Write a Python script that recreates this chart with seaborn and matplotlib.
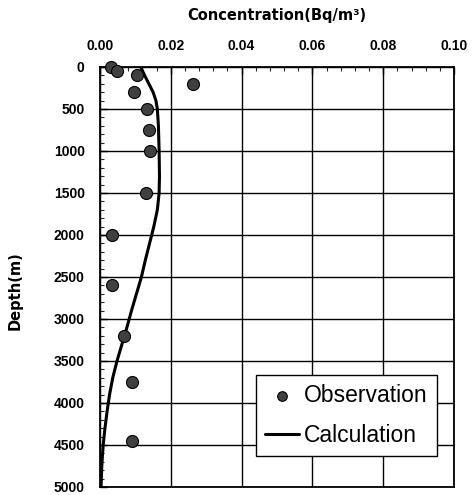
import matplotlib
matplotlib.use("Agg")
import matplotlib.pyplot as plt
import seaborn as sns
import pandas as pd
from matplotlib.ticker import MultipleLocator

# Observation data (concentration Bq/m3, depth m)
obs_conc = [0.0030, 0.0049, 0.0105, 0.0263, 0.0096, 0.0133, 0.0138, 0.0140,
            0.0130, 0.0035, 0.0035, 0.0068, 0.0091, 0.0091]
obs_depth = [0, 45, 95, 200, 300, 500, 750, 1000, 1500, 2000, 2600, 3200, 3750, 4450]

# Calculation curve
calc_depth = [0, 100, 200, 300, 400, 500, 700, 1000, 1300, 1500, 1700, 1900,
              2100, 2300, 2500, 2700, 2900, 3100, 3300, 3500, 3700, 3900,
              4100, 4300, 4500, 4750, 5000]
calc_conc = [0.0115, 0.0126, 0.0138, 0.0150, 0.0158, 0.0162, 0.0165, 0.0167,
             0.0168, 0.0167, 0.0162, 0.0152, 0.0140, 0.0128, 0.0117, 0.0103,
             0.0089, 0.0076, 0.0062, 0.0048, 0.0036, 0.0027, 0.0020, 0.0014,
             0.0009, 0.0005, 0.0003]

x_ticks = [0.00, 0.02, 0.04, 0.06, 0.08, 0.10]
x_tick_labels = ["0.00", "0.02", "0.04", "0.06", "0.08", "0.10"]
y_ticks = [0, 500, 1000, 1500, 2000, 2500, 3000, 3500, 4000, 4500, 5000]

sns.set_style("white")
plt.rcParams["font.family"] = ["Liberation Sans", "DejaVu Sans"]
plt.rcParams["text.color"] = "black"
plt.rcParams["axes.labelcolor"] = "black"

fig = plt.figure(figsize=(4.74, 4.95), dpi=100)
ax = fig.add_axes([100/474, 8/495, 354/474, 420/495])

obs_df = pd.DataFrame({"conc": obs_conc, "depth": obs_depth})
calc_df = pd.DataFrame({"conc": calc_conc, "depth": calc_depth})

sns.lineplot(data=calc_df, x="conc", y="depth", sort=False, orient="y",
             color="black", linewidth=2.2, ax=ax, label="Calculation", zorder=3)
sns.scatterplot(data=obs_df, x="conc", y="depth", ax=ax, s=75, marker="o",
                color="#404040", edgecolor="black", linewidth=0.8,
                label="Observation", zorder=4, clip_on=False)

ax.set_xlim(0, 0.10)
ax.set_ylim(5000, 0)
ax.set_xticks(x_ticks)
ax.set_xticklabels(x_tick_labels)
ax.set_yticks(y_ticks)
ax.xaxis.set_minor_locator(MultipleLocator(0.004))
ax.yaxis.set_minor_locator(MultipleLocator(100))
ax.xaxis.tick_top()
ax.xaxis.set_label_position("top")
ax.tick_params(axis="both", which="major", direction="in", length=5, width=1,
               labelsize=10, colors="black")
ax.tick_params(axis="both", which="minor", direction="in", length=3, width=0.8)
ax.tick_params(axis="x", which="both", top=True, bottom=False, pad=10)
ax.tick_params(axis="y", which="both", left=True, right=False, pad=11)
for lbl in ax.get_xticklabels() + ax.get_yticklabels():
    lbl.set_fontweight("bold")

ax.grid(True, which="major", color="black", linewidth=1.0)
for sp in ax.spines.values():
    sp.set_color("black")
    sp.set_linewidth(1.3)

ax.set_xlabel("Concentration(Bq/m³)", fontsize=10.5, fontweight="bold",
              family=["DejaVu Sans"], labelpad=14)
ax.set_ylabel("Depth(m)", fontsize=10.5, fontweight="bold",
              family=["DejaVu Sans"])
ax.yaxis.set_label_coords(-0.2175, 0.467)

handles, labels = ax.get_legend_handles_labels()
order = [labels.index("Observation"), labels.index("Calculation")]
leg = ax.legend([handles[i] for i in order], [labels[i] for i in order],
                loc="upper left", bbox_to_anchor=(0.441, 0.267),
                borderaxespad=0, fontsize=16.5, frameon=True, fancybox=False,
                edgecolor="black", handlelength=1.45, handletextpad=0.25,
                borderpad=0.4, labelspacing=0.75, markerscale=0.8)
leg.get_frame().set_linewidth(1.0)
leg.get_frame().set_alpha(1)
for t in leg.get_texts():
    t.set_color("black")

fig.savefig("out.png", dpi=100)
